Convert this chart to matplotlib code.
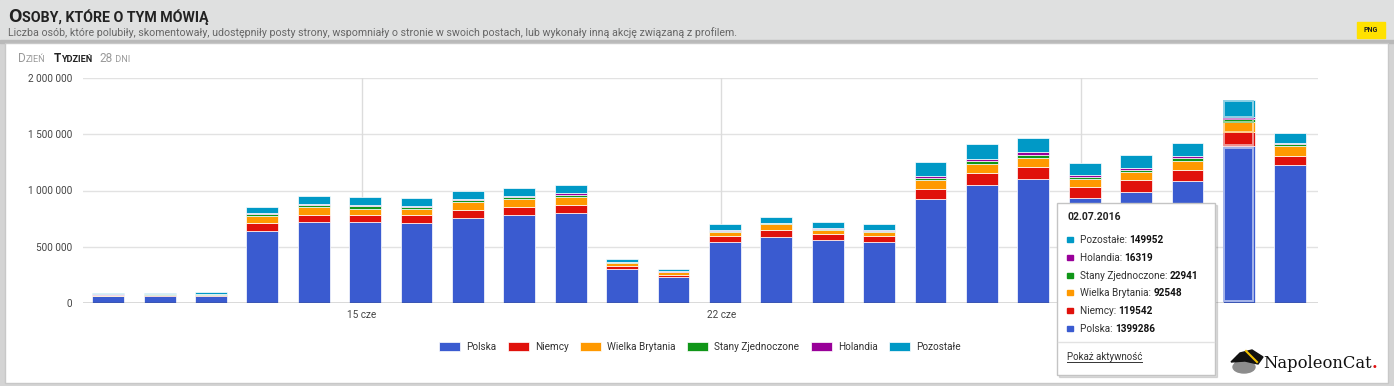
import matplotlib
matplotlib.use("Agg")
import matplotlib.pyplot as plt
import numpy as np
import pandas as pd
from matplotlib.patches import Rectangle, Polygon, Ellipse

plt.rcParams['font.family'] = ['Roboto', 'DejaVu Sans']

W, H = 1394, 386

# ---------------------------------------------------------------- data
dates = pd.date_range("2016-06-10", "2016-07-03", freq="D")
series_names = ["Polska", "Niemcy", "Wielka Brytania", "Stany Zjednoczone", "Holandia", "Pozostałe"]
colors = ["#3a5bd0", "#e0110b", "#ff9900", "#109618", "#990099", "#0099c6"]

polska = [60000, 61000, 62000, 640000, 720000, 717000, 711000, 756000, 779000, 803000, 299000, 228000,
          539000, 590000, 557000, 539000, 921000, 1046000, 1102000, 936000, 990000, 1081000, 1399286, 1224000]
niemcy = [6000, 6000, 5000, 71000, 65000, 62000, 68000, 71000, 71000, 71000, 28000, 21000,
          53000, 56000, 53000, 53000, 95000, 113000, 107000, 95000, 101000, 98000, 119542, 86000]
wielka_brytania = [5000, 5000, 5000, 62000, 68000, 59000, 59000, 71000, 71000, 65000, 26000, 24000,
                   36000, 56000, 41000, 41000, 74000, 80000, 83000, 74000, 74000, 83000, 92548, 83000]
stany_zjednoczone = [4000, 4000, 4000, 15000, 15000, 20000, 13000, 17000, 18000, 22000, 8000, 6000,
                     13000, 7000, 10000, 10000, 23000, 24000, 28000, 17000, 20000, 23000, 22941, 17000]
holandia = [5000, 5000, 5000, 12000, 12000, 16000, 11000, 13000, 15000, 19000, 7000, 6000,
            11000, 5000, 8000, 8000, 18000, 20000, 22000, 13000, 16000, 18000, 16319, 13000]
pozostale = [12000, 12000, 13000, 53000, 68000, 65000, 71000, 71000, 71000, 65000, 20000, 21000,
             53000, 53000, 50000, 53000, 121000, 127000, 124000, 113000, 119000, 121000, 149952, 89000]

week_ticks = ["2016-06-15", "2016-06-22", "2016-06-29"]
week_labels = ["15 cze", "22 cze", ""]   # third label sits under the tooltip
y_ticks = [0, 500000, 1000000, 1500000, 2000000]
hover_date = "2016-07-02"

values = [polska, niemcy, wielka_brytania, stany_zjednoczone, holandia, pozostale]


def lighten(c, f=0.55):
    rgb = np.array(matplotlib.colors.to_rgb(c))
    return tuple(rgb + (1 - rgb) * f)


# ---------------------------------------------------------------- figure
fig = plt.figure(figsize=(W / 100, H / 100), dpi=100)
fig.patch.set_facecolor("#d4d4d4")

bg = fig.add_axes([0, 0, 1, 1], zorder=-5)
bg.set_xlim(0, W)
bg.set_ylim(H, 0)
bg.axis("off")
bg.add_patch(Rectangle((0, 0), W, 40, color="#dfe0e0"))
bg.add_patch(Rectangle((0, 40), W, 3, color="#b9b9b9"))
bg.add_patch(Rectangle((5, 43), 1383, 340, facecolor="white", edgecolor="#c8c8c8", lw=1))

# main chart
ax = fig.add_axes([83 / W, 1 - 303 / H, (1318 - 83) / W, (303 - 78) / H])
ax.set_facecolor("none")
x = np.arange(len(dates))
hover_i = list(dates).index(pd.Timestamp(hover_date))

bottom = np.zeros(len(dates))
handles = []
for name, vals, col in zip(series_names, values, colors):
    vals = np.array(vals, dtype=float)
    b = ax.bar(x, vals, bottom=bottom, width=0.62, color=col, edgecolor="white", linewidth=0.5,
               label=name, zorder=3)
    handles.append(b)
    # hovered bar gets a light inner outline
    ax.bar(x[hover_i], vals[hover_i] * 0.97, bottom=bottom[hover_i] + vals[hover_i] * 0.015, width=0.56,
           fill=False, edgecolor=lighten(col), linewidth=1.4, zorder=4)
    bottom += vals

ax.set_xlim(-0.49, 23.54)
ax.set_ylim(0, 2000000)
ax.set_yticks(y_ticks)
ax.set_yticklabels([f"{v:,}".replace(",", " ") for v in y_ticks])
wk = [list(dates).index(pd.Timestamp(d)) - 0.07 for d in week_ticks]
ax.set_xticks(wk)
ax.set_xticklabels(week_labels)
ax.tick_params(length=0, labelsize=7.2, colors="#444444")
ax.tick_params(axis="y", pad=8)
ax.tick_params(axis="x", pad=5)
for v in y_ticks[1:]:
    ax.axhline(v, color="#e2e2e2", lw=1, zorder=1)
for p in wk:
    ax.axvline(p, color="#dcdcdc", lw=1, zorder=1)
ax.axhline(0, color="#444444", lw=1, zorder=5)
for s in ax.spines.values():
    s.set_visible(False)

fig.legend(handles=handles, labels=series_names, loc="center", bbox_to_anchor=(700 / W, 1 - 347 / H),
           ncol=6, frameon=False, fontsize=7.2, handlelength=2.1, handleheight=1.0,
           handletextpad=0.6, columnspacing=1.15, labelcolor="#333333")

# ---------------------------------------------------------------- overlay texts
fg = fig.add_axes([0, 0, 1, 1], zorder=10)
fg.set_xlim(0, W)
fg.set_ylim(H, 0)
fg.axis("off")
fg.set_facecolor("none")
r = fig.canvas.get_renderer()


def chain(x0, y0, parts):
    for s, kw in parts:
        t = fg.text(x0, y0, s, ha="left", va="baseline", **kw)
        x0 = t.get_window_extent(r).x1
    return x0


chain(8, 22, [("O", dict(fontsize=14, fontweight="bold", color="#222222")),
              ("SOBY, KTÓRE O TYM MÓWIĄ", dict(fontsize=10.2, fontweight="bold", color="#222222"))])
sub = fg.text(8, 36, "Liczba osób, które polubiły, skomentowały, udostępniły posty strony, wspomniały o stronie "
              "w swoich postach, lub wykonały inną akcję związaną z profilem.",
              ha="left", va="baseline", fontsize=8, color="#666666")
sub.set_fontsize(8 * 734 / sub.get_window_extent(r).width)

fg.add_patch(Rectangle((1357, 22), 28, 16, color="#ffe100"))
fg.text(1371, 30.5, "PNG", ha="center", va="center", fontsize=5, fontweight="bold", color="#222222")

x1 = chain(18, 62, [("D", dict(fontsize=8.5, color="#9a9a9a")), ("ZIEŃ", dict(fontsize=6.6, color="#9a9a9a"))])
x1 = chain(x1 + 8, 62, [("T", dict(fontsize=8.5, fontweight="bold", color="#222222")),
                        ("YDZIEŃ", dict(fontsize=6.6, fontweight="bold", color="#222222"))])
chain(x1 + 8, 62, [("28", dict(fontsize=8.5, color="#9a9a9a")), (" DNI", dict(fontsize=6.6, color="#9a9a9a"))])

# tooltip for the hovered day
fg.add_patch(Rectangle((1059, 205), 158, 172, color="#000000", alpha=0.12))
fg.add_patch(Rectangle((1057, 203), 158, 172, facecolor="white", edgecolor="#c4c4c4", lw=1))
fg.text(1067, 220, dates[hover_i].strftime("%d.%m.%Y"), fontsize=7.5, fontweight="bold",
        color="#222222", ha="left", va="baseline")
yy = 243
for name, vals, col in reversed(list(zip(series_names, values, colors))):
    fg.add_patch(Rectangle((1067, yy - 6), 6, 5, color=col))
    chain(1080, yy, [(name + ": ", dict(fontsize=7.2, color="#333333")),
                     (str(vals[hover_i]), dict(fontsize=7.2, fontweight="bold", color="#111111"))])
    yy += 17.8
fg.plot([1058, 1214], [342, 342], color="#e2e2e2", lw=1)
lk = fg.text(1067, 360, "Pokaż aktywność", fontsize=7, color="#333333", ha="left", va="baseline")
lb = lk.get_window_extent(r)
fg.plot([1067, lb.x1], [362, 362], color="#333333", lw=0.7)

# NapoleonCat logo
fg.add_patch(Ellipse((1244, 367), 22, 12, color="#8c8c8c"))
fg.add_patch(Polygon([(1235, 364), (1237, 356), (1242, 362)], color="#8c8c8c"))
fg.add_patch(Polygon([(1231, 362), (1240, 353), (1252, 350), (1263, 357), (1258, 364), (1245, 361)],
                     color="#111111"))
fg.plot([1246, 1257], [351, 362], color="#f0c000", lw=1.5)
x2 = chain(1263, 368, [("NapoleonCat", dict(fontsize=11.8, family="DejaVu Serif", color="#111111"))])
fg.text(x2, 368, ".", fontsize=11.8, family="DejaVu Serif", color="#e01010", ha="left", va="baseline",
        fontweight="bold")

fig.savefig("out.png", dpi=100)
